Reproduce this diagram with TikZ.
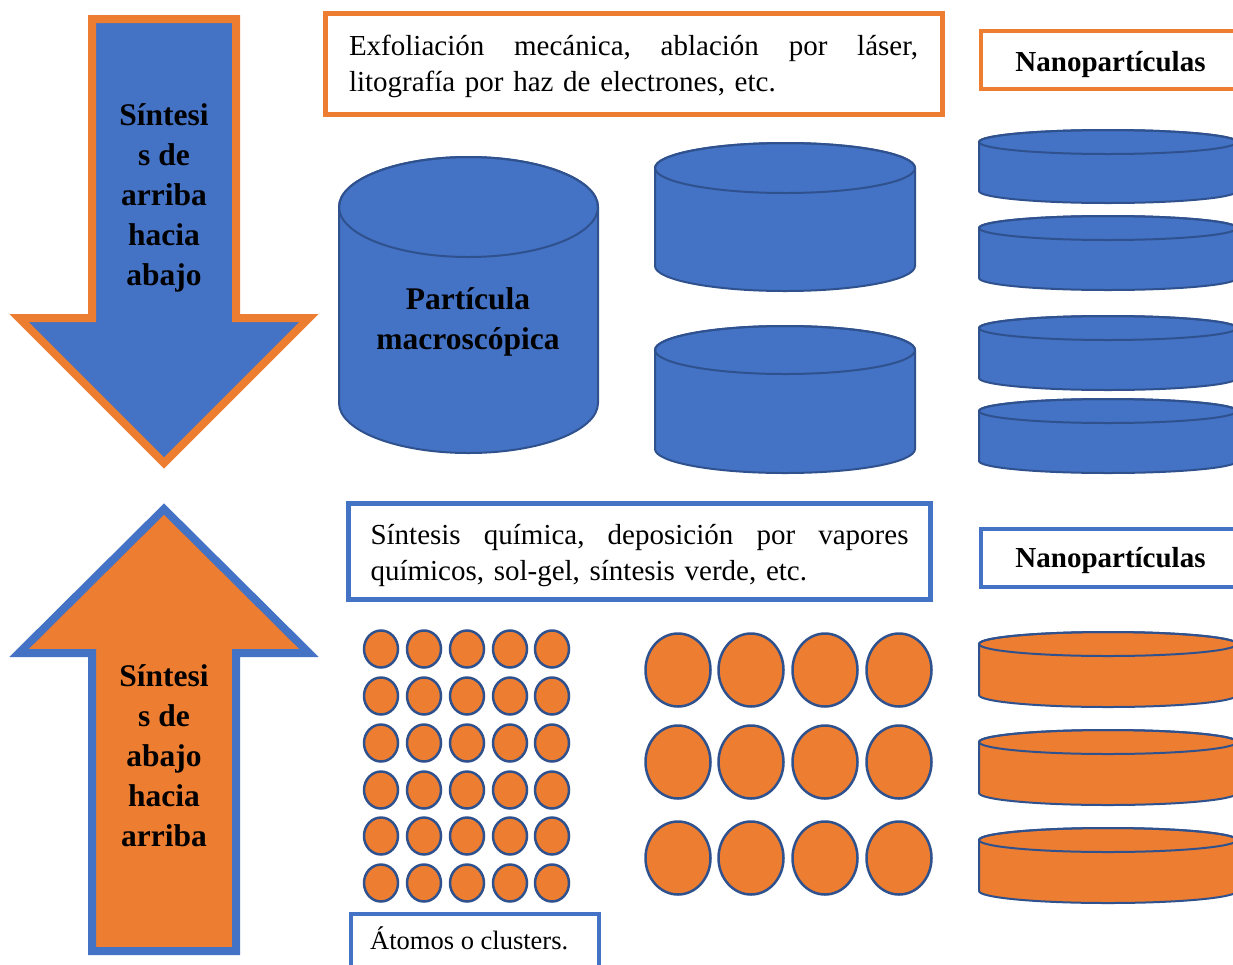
\documentclass[tikz,border=0pt]{standalone}
\usepackage{fontspec}
\setmainfont{Liberation Serif}
\definecolor{ablue}{HTML}{4472C4}
\definecolor{aorange}{HTML}{ED7D31}
\definecolor{dblue}{HTML}{2F528F}
\newcommand\mycyl[6]{%
  \pgfmathsetmacro\cx{(#2+#3)/2}\pgfmathsetmacro\rx{(#3-#2)/2}%
  \path[cylbody, fill=#1] (#2,#4) -- (#2,#5) arc[start angle=180,end angle=0,x radius=\rx,y radius=#6] -- (#3,#4) arc[start angle=0,end angle=-180,x radius=\rx,y radius=#6] -- cycle;
  \draw[cylline] (\cx,#4) ellipse[x radius=\rx, y radius=#6];}
\begin{document}
\begin{tikzpicture}[x=1pt,y=-1pt,
  cylbody/.style={draw=dblue, line width=2pt, line join=round},
  cylline/.style={draw=dblue, line width=2pt},
  arrowshape/.style={line width=8pt, line join=miter},
  regtext/.style={font=\fontsize{29}{36}\selectfont, align=left, inner sep=0pt},
  boldtext/.style={font=\bfseries\fontsize{31.5}{40}\selectfont, align=center},
  frame/.style={fill=white, inner sep=0pt},
  nanotext/.style={font=\bfseries\fontsize{29}{36}\selectfont, inner sep=0pt},
  atom/.style={fill=aorange, draw=dblue, line width=2.5pt}]
\useasboundingbox (0,0) rectangle (1233,964);
\clip (0,0) rectangle (1233,964);
\fill[white] (0,0) rectangle (1233,964);

% down arrow
\draw[arrowshape, fill=ablue, draw=aorange] (92,19) -- (236,19) -- (236,318) -- (309,318) -- (164,463) -- (19,318) -- (92,318) -- cycle;
\node[boldtext] (downtxt) at (164,198) {Síntesi\\s de\\arriba\\hacia\\abajo};

% up arrow
\draw[arrowshape, fill=aorange, draw=ablue] (164,509) -- (309,653) -- (236,653) -- (236,951) -- (92,951) -- (92,653) -- (19,653) -- cycle;
\node[boldtext] (uptxt) at (164,756) {Síntesi\\s de\\abajo\\hacia\\arriba};

% top text box
\node[frame, draw=aorange, line width=5pt, minimum width=617pt, minimum height=101pt] (topbox) at (633.5,63.5) {};
\node[regtext, text width=569pt] (toptxt) at ([yshift=-3]topbox.center)
  {\makebox[569pt][l]{Exfoliación\hfill mecánica,\hfill ablación\hfill por\hfill láser,}\\litografía por haz de electrones, etc.};

% bottom text box
\node[frame, draw=ablue, line width=5pt, minimum width=582pt, minimum height=96pt] (botbox) at (639.5,551.5) {};
\node[regtext, text width=538pt] (bottxt) at ([yshift=-4]botbox.center)
  {\makebox[538pt][l]{Síntesis\hfill química,\hfill deposición\hfill por\hfill vapores}\\químicos, sol-gel, síntesis verde, etc.};

% nanoparticle boxes
\node[frame, draw=aorange, line width=4pt, minimum width=259pt, minimum height=58pt] (nanotop) at (1110.5,60) {};
\node[nanotext] at ([yshift=-5]nanotop.center) {Nanopartículas};
\node[frame, draw=ablue, line width=4pt, minimum width=259pt, minimum height=58pt] (nanobot) at (1110.5,558) {};
\node[nanotext] at ([yshift=-3]nanobot.center) {Nanopartículas};

% big cylinder
\mycyl{ablue}{339}{598}{207}{403}{50}
\node[boldtext] (macro) at (468,321.5) {Partícula\\macroscópica};

% medium cylinders
\mycyl{ablue}{655}{915}{168}{266}{25}
\mycyl{ablue}{655}{915}{350}{449}{24}

% small blue cylinders
\mycyl{ablue}{979}{1237}{142}{191}{12}
\mycyl{ablue}{979}{1237}{228}{278}{12}
\mycyl{ablue}{979}{1237}{328}{378}{12}
\mycyl{ablue}{979}{1237}{411}{461}{12}

% small orange cylinders
\mycyl{aorange}{979}{1237}{644}{695}{12}
\mycyl{aorange}{979}{1237}{742}{793}{12}
\mycyl{aorange}{979}{1237}{840}{891}{12}

% atoms
\foreach \x in {381,424,467,510,552}
  \foreach \y in {649,696,743,790,836,883}
    \draw[atom] (\x,\y) ellipse[x radius=17, y radius=18.5];
% clusters
\foreach \x in {678,751,825,899}
  \foreach \y in {670,762,858}
    \draw[atom] (\x,\y) ellipse[x radius=32.5, y radius=36.5];

% atoms label box
\node[frame, draw=ablue, line width=4pt, anchor=north west, minimum width=248pt, minimum height=70pt] (atomsbox) at (349,912) {};
\node[regtext, font=\fontsize{26.5}{32}\selectfont, anchor=base west] (atomstxt) at (370,949) {Átomos o clusters.};
\end{tikzpicture}
\end{document}
